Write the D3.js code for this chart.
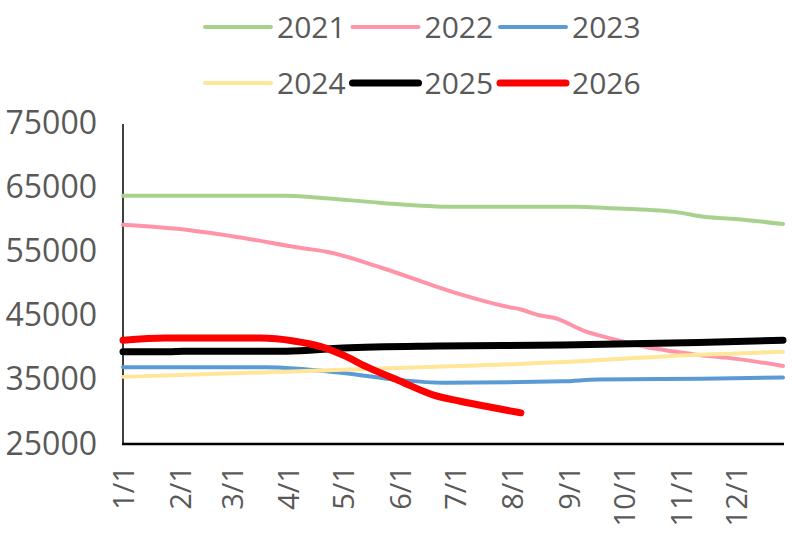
<!DOCTYPE html>
<html>
<head>
<meta charset="utf-8">
<script src="https://cdn.jsdelivr.net/npm/d3@7"></script>
<style>
  body { margin: 0; background: #fff; }
  text { font-family: "Open Sans", sans-serif; fill: #595959; }
</style>
</head>
<body>
<svg id="chart" width="792" height="539"></svg>
<script>
// values, [month/day, value]
var s2021 = [["1/1",63500],["3/31",63500],["4/18",63200],["5/22",62400],["6/30",61800],["7/20",61800],
             ["9/5",61800],["9/22",61600],["10/29",61000],["11/15",60200],["12/1",59900],["12/27",59100]];
var s2022 = [["1/1",59000],["1/29",58400],["3/4",57100],["4/10",55300],["4/22",54800],["5/22",52300],
             ["6/30",48500],["7/30",46200],["8/6",45800],["8/16",44900],["8/24",44500],["9/11",42300],
             ["9/17",41800],["10/2",40700],["10/16",39800],["10/23",39500],["11/11",38700],["11/26",38300],
             ["12/27",37000]];
var s2023 = [["1/1",36800],["3/20",36800],["5/1",35900],["6/1",34800],["6/25",34400],["8/29",34600],
             ["9/17",34900],["11/13",35000],["12/27",35200]];
var s2024 = [["1/1",35300],["5/1",36400],["8/29",37600],["11/8",38700],["12/27",39200]];
var s2025 = [["1/1",39200],["1/26",39200],["2/3",39300],["3/31",39300],["5/1",39800],["6/22",40100],
             ["8/29",40250],["11/11",40650],["12/27",41000]];
var s2026 = [["1/1",41000],["1/24",41350],["3/17",41350],["4/4",40900],["4/19",40000],["4/26",39300],
             ["5/1",38700],["5/14",36850],["6/1",34650],["6/19",32500],["7/4",31500],["7/20",30600],
             ["8/6",29700]];

var years = ["2021","2022","2023","2024","2025","2026"];
var colors = ["#A9D18E","#FF94A8","#5B9BD5","#FFE699","#000000","#FF0000"];
var widths = [4, 4, 4, 4, 7, 7];
var yTicks = [25000, 35000, 45000, 55000, 65000, 75000];

var parse = d3.timeParse("%m/%d/%Y");
function day(s) { return parse(s + "/2026"); }

var svg = d3.select("#chart");

var x = d3.scaleTime()
    .domain([day("1/1"), day("12/27")])
    .range([123, 783]);

var y = d3.scaleLinear()
    .domain([25000, 75000])
    .range([443, 122]);

// y labels
svg.append("g")
    .selectAll("text")
    .data(yTicks)
    .enter().append("text")
    .attr("x", 97)
    .attr("y", d => y(d))
    .attr("dy", "0.36em")
    .attr("text-anchor", "end")
    .style("font-size", "32px")
    .text(d => d);

// x labels, rotated
var months = d3.timeMonth.range(day("1/1"), day("12/2"));
svg.append("g")
    .selectAll("text")
    .data(months)
    .enter().append("text")
    .attr("transform", d => `translate(${x(d) + 1},466) rotate(-90)`)
    .attr("dy", "0.36em")
    .attr("text-anchor", "end")
    .style("font-size", "29px")
    .text(d3.timeFormat("%-m/%-d"));

// axis lines
svg.append("line")
    .attr("x1", 123).attr("x2", 123)
    .attr("y1", y(75000) + 2).attr("y2", y(25000) + 1)
    .attr("stroke", "#000").attr("stroke-width", 1.5);
svg.append("line")
    .attr("x1", 122).attr("x2", 784)
    .attr("y1", y(25000) + 1).attr("y2", y(25000) + 1)
    .attr("stroke", "#000").attr("stroke-width", 2.5);

var line = d3.line()
    .x(d => x(day(d[0])))
    .y(d => y(d[1]))
    .curve(d3.curveMonotoneX);

var all = [s2021, s2022, s2023, s2024, s2025, s2026];

svg.append("g")
    .selectAll("path")
    .data(all)
    .enter().append("path")
    .attr("d", line)
    .attr("fill", "none")
    .attr("stroke", (d, i) => colors[i])
    .attr("stroke-width", (d, i) => widths[i])
    .attr("stroke-linecap", "round")
    .attr("stroke-linejoin", "round");

// legend, two rows of three
var legend = svg.append("g")
    .selectAll("g")
    .data(years)
    .enter().append("g")
    .attr("transform", (d, i) => `translate(${205 + (i % 3) * 147.5},${i < 3 ? 27 : 83})`);

legend.append("line")
    .attr("x1", 0).attr("x2", 66)
    .attr("stroke", (d, i) => colors[i])
    .attr("stroke-width", (d, i) => widths[i])
    .attr("stroke-linecap", "round");

legend.append("text")
    .attr("x", 72)
    .attr("dy", "0.36em")
    .style("font-size", "30px")
    .text(d => d);
</script>
</body>
</html>
